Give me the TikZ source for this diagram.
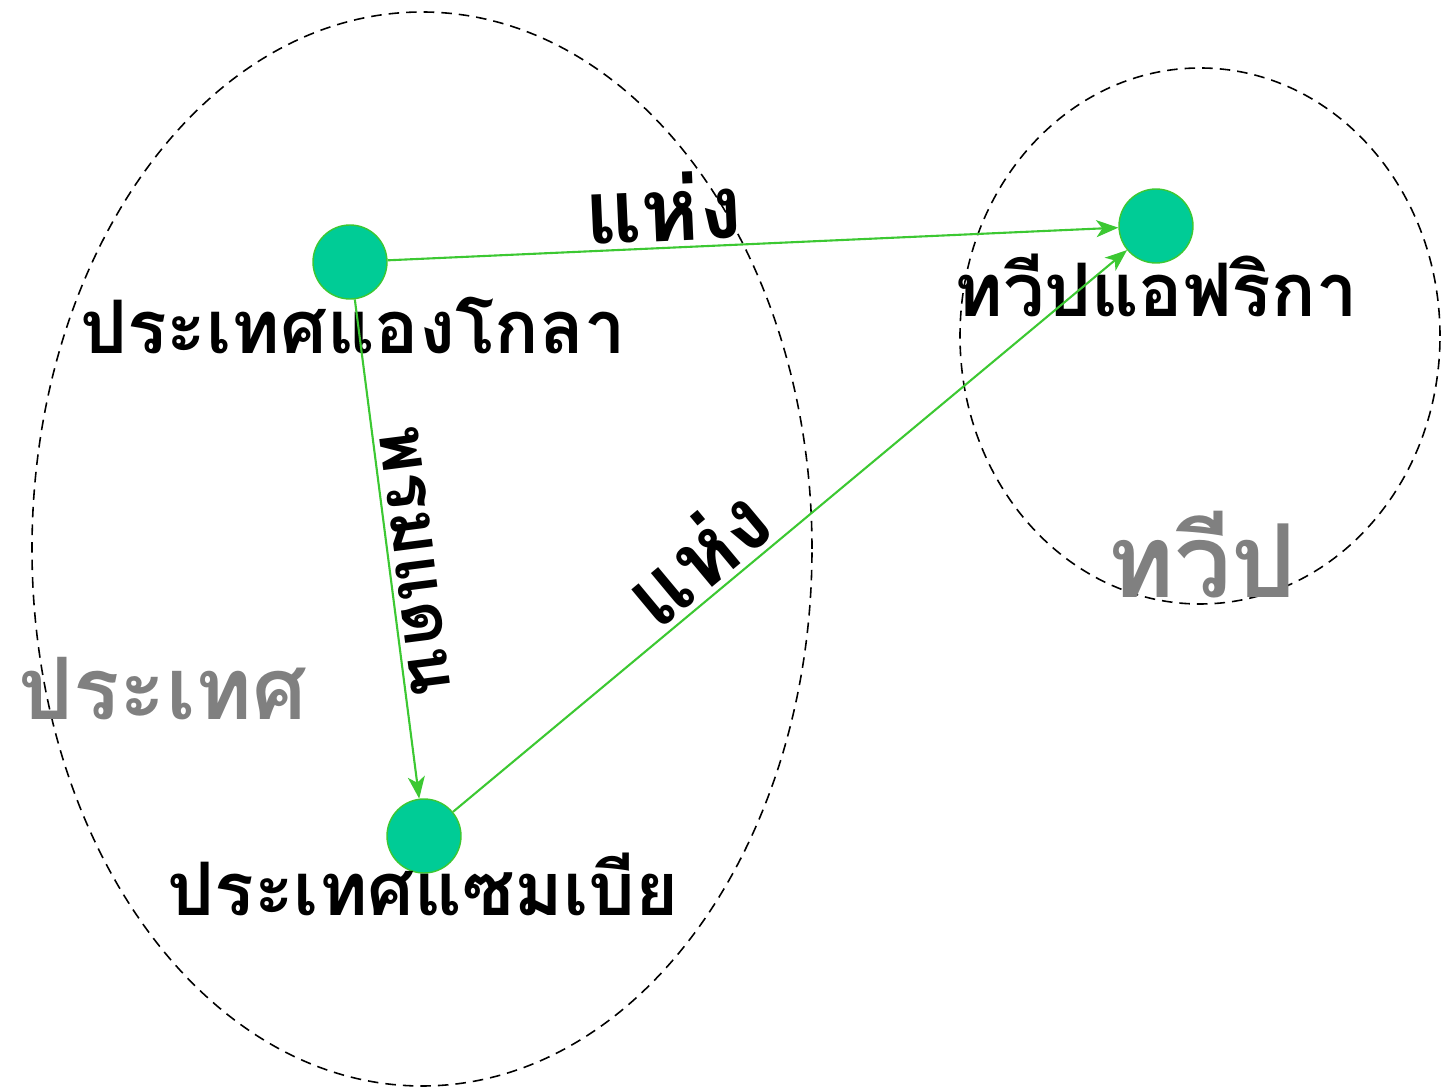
\documentclass[tikz,border=0pt]{standalone}
\usepackage{fontspec}
\newfontfamily\thaifont[Script=Thai]{Loma}
\usepackage{tikz}
\usetikzlibrary{
  positioning,
  arrows.meta
}
\definecolor{dotgreen}{RGB}{0,204,150}
\definecolor{linegreen}{RGB}{60,200,50}
\definecolor{setgray}{RGB}{128,128,128}

\begin{document}
\begin{tikzpicture}[
    place/.style={circle, fill=dotgreen, draw=linegreen, line width=0.4pt, minimum size=0.74cm, inner sep=0pt},
    placename/.style={font=\thaifont\bfseries\fontsize{21}{25}\selectfont, anchor=base, inner sep=0pt},
    setname/.style={font=\thaifont\bfseries\fontsize{24.5}{29}\selectfont, text=setgray, anchor=base, inner sep=0pt},
    relname/.style={font=\thaifont\bfseries\fontsize{25}{30}\selectfont, sloped, above, inner sep=1.5pt},
    relarrow/.style={-{Stealth[length=0.22cm, width=0.17cm, inset=0.06cm]}, draw=linegreen, line width=0.6pt},
    setline/.style={dashed, dash pattern=on 3pt off 2pt, line width=0.45pt}
  ]
      \useasboundingbox (0,0) rectangle (14.43,10.88);

      % Sets
      \draw[setline] (4.22,5.39) ellipse [x radius=3.90, y radius=5.37];
      \draw[setline] (12.00,7.52) ellipse [x radius=2.40, y radius=2.68];
      \node[setname] (countryset) at (1.63,3.68) {ประเทศ};
      \node[setname, font=\thaifont\bfseries\fontsize{29}{35}\selectfont] (continentset) at (12.02,4.90) {ทวีป};

      % Places
      \node[place] (angola) at (3.50,8.26) {};
      \node[place] (africa) at (11.56,8.62) {};
      \node[place] (zambia) at (4.24,2.52) {};

      \node[placename] (angolaname) at (3.53,7.34) {ประเทศแองโกลา};
      \node[placename] (africaname) at (11.56,7.71) {ทวีปแอฟริกา};
      \node[placename] (zambianame) at (4.23,1.72) {ประเทศแซมเบีย};

      % Relations
      \draw[relarrow] (angola) -- (africa) node[relname, pos=0.38] (rel1) {แห่ง};
      \draw[relarrow] (angola) -- (zambia) node[relname, pos=0.53, font=\thaifont\bfseries\fontsize{20}{24}\selectfont] (rel2) {พรมแดน};
      \draw[relarrow] (zambia) -- (africa) node[relname, pos=0.40] (rel3) {แห่ง};
    \end{tikzpicture}
\end{document}
